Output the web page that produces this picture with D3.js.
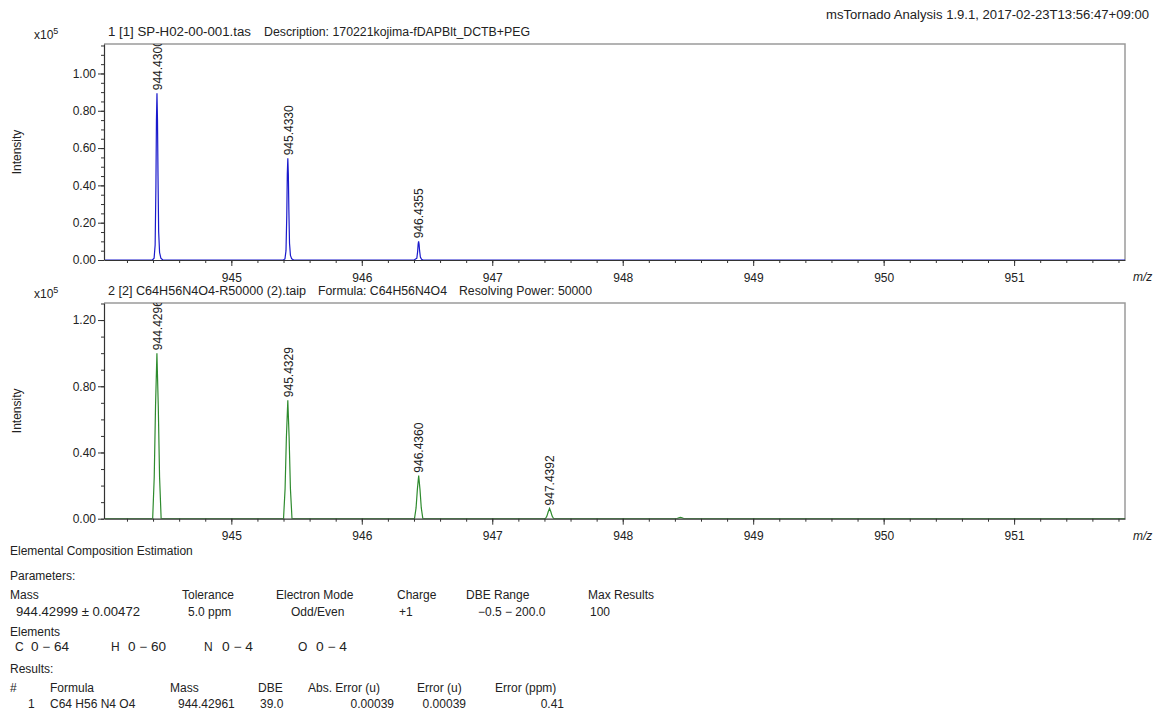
<!DOCTYPE html>
<html><head><meta charset="utf-8">
<script src="https://cdn.jsdelivr.net/npm/d3@7"></script>
<style>
body{margin:0;background:#fff}
text{font-family:"Liberation Sans",Arial,sans-serif;fill:#222;font-size:12px}
</style>
</head><body>
<svg id="c" width="1157" height="715"></svg>
<script>
// ---------- DATA ----------
const xDomain = [944.024, 951.85];
const xMajorTicks = [945, 946, 947, 948, 949, 950, 951];
const topYTicks = [0, 0.2, 0.4, 0.6, 0.8, 1.0];
const bottomYTicks = [0, 0.4, 0.8, 1.2];
const topYMax = 1.158;
const bottomYMax = 1.303;

const headerText = "msTornado Analysis 1.9.1, 2017-02-23T13:56:47+09:00";
const topTitle = ["1 [1] SP-H02-00-001.tas", "Description: 170221kojima-fDAPBlt_DCTB+PEG"];
const bottomTitle = ["2 [2] C64H56N4O4-R50000 (2).taip", "Formula: C64H56N4O4", "Resolving Power: 50000"];

// measured spectrum (blue), m/z vs intensity (x10^5)
const measuredProfile = [
  [944.024,0],[944.395,0],[944.408,0.01],[944.416,0.08],[944.422,0.40],[944.426,0.75],[944.430,0.894],
  [944.434,0.75],[944.438,0.45],[944.443,0.15],[944.450,0.04],[944.460,0.01],[944.475,0],
  [945.398,0],[945.411,0.006],[945.419,0.05],[945.425,0.24],[945.429,0.46],[945.433,0.545],
  [945.437,0.46],[945.441,0.27],[945.446,0.09],[945.453,0.025],[945.463,0.006],[945.478,0],
  [946.401,0],[946.422,0.01],[946.428,0.045],[946.432,0.085],[946.4355,0.10],[946.439,0.085],
  [946.443,0.05],[946.449,0.016],[946.458,0.004],[946.470,0],
  [951.85,0]
];
const measuredPeaks = [
  {mz:944.4300, label:"944.4300", h:0.894},
  {mz:945.4330, label:"945.4330", h:0.545},
  {mz:946.4355, label:"946.4355", h:0.10}
];

// simulated isotope pattern (green)
const simulatedProfile = [
  [944.024,0],[944.397,0],[944.409,0.25],[944.419,0.68],[944.4296,1.0],[944.440,0.68],[944.450,0.25],[944.462,0],
  [945.400,0],[945.412,0.18],[945.422,0.49],[945.4329,0.716],[945.443,0.49],[945.453,0.18],[945.465,0],
  [946.404,0],[946.416,0.065],[946.426,0.177],[946.436,0.26],[946.446,0.177],[946.456,0.065],[946.468,0],
  [947.407,0],[947.419,0.016],[947.429,0.042],[947.4392,0.062],[947.449,0.042],[947.459,0.016],[947.471,0],
  [948.412,0],[948.430,0.005],[948.442,0.008],[948.455,0.005],[948.472,0],
  [951.85,0]
];
const simulatedPeaks = [
  {mz:944.4296, label:"944.4296", h:1.0},
  {mz:945.4329, label:"945.4329", h:0.716},
  {mz:946.4360, label:"946.4360", h:0.26},
  {mz:947.4392, label:"947.4392", h:0.062}
];

// text report
const reportTitle = "Elemental Composition Estimation";
const paramHeaders = ["Mass","Tolerance","Electron Mode","Charge","DBE Range","Max Results"];
const paramValues = ["944.42999 \u00b1 0.00472","5.0 ppm","Odd/Even","+1","\u22120.5 \u2212 200.0","100"];
const elementSymbols = ["C","H","N","O"];
const elementRanges = ["0 \u2212 64","0 \u2212 60","0 \u2212 4","0 \u2212 4"];
const resultHeaders = ["#","Formula","Mass","DBE","Abs. Error (u)","Error (u)","Error (ppm)"];
const resultRow = ["1","C64 H56 N4 O4","944.42961","39.0","0.00039","0.00039","0.41"];

// ---------- DRAW ----------
const svg = d3.select("#c");
const L = 104, R = 1125;
const x = d3.scaleLinear().domain(xDomain).range([L, R]);

svg.append("text").attr("x",826).attr("y",19).attr("textLength",323)
  .attr("lengthAdjust","spacingAndGlyphs").text(headerText);

function panel(cfg){
  const g = svg.append("g");
  const y = d3.scaleLinear().domain([0,cfg.yMax]).range([cfg.bottom,cfg.top]);
  const id = "clip"+cfg.top;
  svg.append("clipPath").attr("id",id).append("rect")
    .attr("x",L).attr("y",cfg.top).attr("width",R-L).attr("height",cfg.bottom-cfg.top);

  g.append("path").attr("d",`M${L},${cfg.top}H${R}V${cfg.bottom}`)
    .attr("fill","none").attr("stroke","#9a9a9a").attr("stroke-width",1.5);

  const line = d3.line().x(d=>x(d[0])).y(d=>y(d[1]));
  g.append("path").datum(cfg.profile).attr("d",line).attr("fill","none")
    .attr("stroke",cfg.color).attr("stroke-width",1.2).attr("clip-path",`url(#${id})`);

  const lg = g.append("g").attr("clip-path",`url(#${id})`);
  lg.selectAll("text").data(cfg.peaks).join("text")
    .attr("transform",d=>`translate(${x(d.mz)+0.5},${y(d.h)-3}) rotate(-90)`)
    .attr("dy","0.35em").attr("text-anchor","start").text(d=>d.label);

  const xa = d3.axisBottom(x).tickValues(xMajorTicks).tickSize(6).tickSizeOuter(0).tickFormat(d3.format("d"));
  const xg = g.append("g").attr("transform",`translate(0,${cfg.bottom})`).call(xa);
  const xm = d3.axisBottom(x).tickValues(d3.range(944.2,951.81,0.2)).tickSize(3).tickSizeOuter(0).tickFormat("");
  const xmg = g.append("g").attr("transform",`translate(0,${cfg.bottom})`).call(xm);
  xmg.select(".domain").remove();
  xg.selectAll("text").attr("font-size",12).attr("dy","1.05em").attr("fill","#222");

  const ya = d3.axisLeft(y).tickValues(cfg.yTicks).tickSize(6).tickSizeOuter(0).tickFormat(d3.format(".2f"));
  const yg = g.append("g").attr("transform",`translate(${L},0)`).call(ya);
  const ym = d3.axisLeft(y).tickValues(d3.range(0,cfg.yMax,cfg.minor)).tickSize(3).tickSizeOuter(0).tickFormat("");
  const ymg = g.append("g").attr("transform",`translate(${L},0)`).call(ym);
  ymg.select(".domain").remove();
  yg.selectAll("text").attr("font-size",12).attr("x",-8).attr("fill","#222");
  [xg,xmg,yg,ymg].forEach(s=>{s.selectAll("line").attr("stroke","#333");s.select(".domain").attr("stroke","#333").attr("stroke-width",1.2);});

  g.append("text").attr("x",1133).attr("y",cfg.bottom+21).attr("font-style","italic").attr("font-size",11).text("m/z");
  g.append("text").attr("transform",`translate(21,${(cfg.top+cfg.bottom)/2}) rotate(-90)`)
    .attr("text-anchor","middle").attr("font-size",12).text("Intensity");
  const e = g.append("text").attr("x",34).attr("y",cfg.top-5).attr("font-size",11);
  e.append("tspan").text("x10");
  e.append("tspan").attr("dy",-5).attr("font-size",9).text("5");
  cfg.titles.forEach((t,i)=>{
    const tt = g.append("text").attr("x",cfg.titleX[i]).attr("y",cfg.top-8).text(t);
    if(cfg.titleW[i]) tt.attr("textLength",cfg.titleW[i]).attr("lengthAdjust","spacingAndGlyphs");
  });
}

panel({top:44,bottom:260,yMax:topYMax,yTicks:topYTicks,minor:0.05,profile:measuredProfile,peaks:measuredPeaks,
  color:"#1a1acc",titles:topTitle,titleX:[108,264],titleW:[143,266]});
panel({top:303,bottom:518.7,yMax:bottomYMax,yTicks:bottomYTicks,minor:0.1,profile:simulatedProfile,peaks:simulatedPeaks,
  color:"#2e8b2e",titles:bottomTitle,titleX:[108,318,459],titleW:[198,129,133]});

const T = svg.append("g");
function txt(xp,yp,s,w){const t=T.append("text").attr("x",xp).attr("y",yp).text(s);
  if(w) t.attr("textLength",w).attr("lengthAdjust","spacingAndGlyphs"); return t;}
txt(10,555,reportTitle);
txt(10,580,"Parameters:");
const phx=[10,182,276,397,466,588], pvx=[16,188,291,399,478,590];
paramHeaders.forEach((s,i)=>txt(phx[i],599,s));
paramValues.forEach((s,i)=>txt(pvx[i],616,s,i===0?124:null));
txt(10,636,"Elements");
const esx=[15,111,204,298], erx=[31,128,222,316], erw=[38,38,31,31];
elementSymbols.forEach((s,i)=>txt(esx[i],651,s));
elementRanges.forEach((s,i)=>txt(erx[i],651,s,erw[i]));
txt(10,673,"Results:");
const rhx=[10,50,170,258,308,417,495];
resultHeaders.forEach((s,i)=>txt(rhx[i],692,s));
const rrx=[28,50,178,260,394,466,564];
resultRow.forEach((s,i)=>{
  const t=txt(rrx[i],708,s);
  if(i>=4) t.attr("text-anchor","end");
});
</script>
</body></html>
